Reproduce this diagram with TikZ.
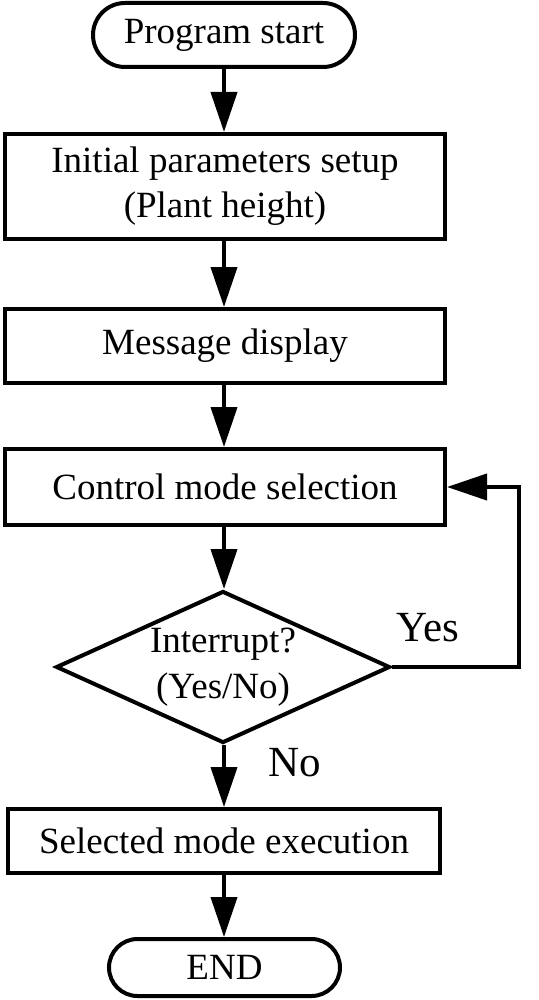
\documentclass[tikz,border=0pt]{standalone}
\usepackage{fontspec}
\setmainfont{Liberation Serif}
\usetikzlibrary{arrows.meta,shapes.geometric,shapes.misc}
\begin{document}
\begin{tikzpicture}[x=1pt,y=-1pt,
  every node/.style={font=\fontsize{37}{45}\selectfont},
  box/.style={draw,line width=4pt,rectangle,inner sep=0pt,minimum width=440pt,align=center},
  term/.style={draw,line width=4pt,rounded rectangle,inner sep=0pt},
  decision/.style={draw,line width=4pt,diamond,aspect=2.2,inner sep=0pt,minimum width=334pt,minimum height=152pt,align=center,font=\fontsize{37}{46}\selectfont},
  lbl/.style={inner sep=0pt,font=\fontsize{43}{50}\selectfont},
  arr/.style={line width=4pt,-{Triangle[length=40pt,width=26pt]}},
  link/.style={line width=4pt}]
\useasboundingbox (0,0) rectangle (538,1000);
\node[term,minimum width=262pt,minimum height=64pt] (start) at (224,35) {Program start};
\node[box,minimum height=105pt] (init) at (225,186.5) {Initial parameters setup\\(Plant height)};
\node[box,minimum height=74pt] (msg) at (225,346) {Message display};
\node[box,minimum height=76pt] (ctrl) at (225,487) {Control mode selection};
\node[decision] (dec) at (223,667) {Interrupt?\\(Yes/No)};
\node[box,minimum width=432pt,minimum height=64pt] (exec) at (224,841) {Selected mode execution};
\node[term,minimum width=231pt,minimum height=57pt] (end) at (224.5,967.5) {END};
\coordinate (c1) at (519,667);
\coordinate (c2) at (519,487);
\node[lbl] (yes) at (428,628) {Yes};
\node[lbl] (no) at (295,763) {No};
\draw[arr] (start.south -| 224,0) -- (init.north -| 224,0);
\draw[arr] (init.south -| 224,0) -- (msg.north -| 224,0);
\draw[arr] (msg.south -| 224,0) -- (ctrl.north -| 224,0);
\draw[arr] (ctrl.south -| 224,0) -- (dec.north -| 224,0);
\draw[arr] (dec.south -| 224,0) -- (exec.north -| 224,0);
\draw[arr] (exec.south -| 224,0) -- (end.north -| 224,0);
\draw[arr] (dec.east) -- (c1) -- (c2) -- (ctrl.east);
\end{tikzpicture}
\end{document}
